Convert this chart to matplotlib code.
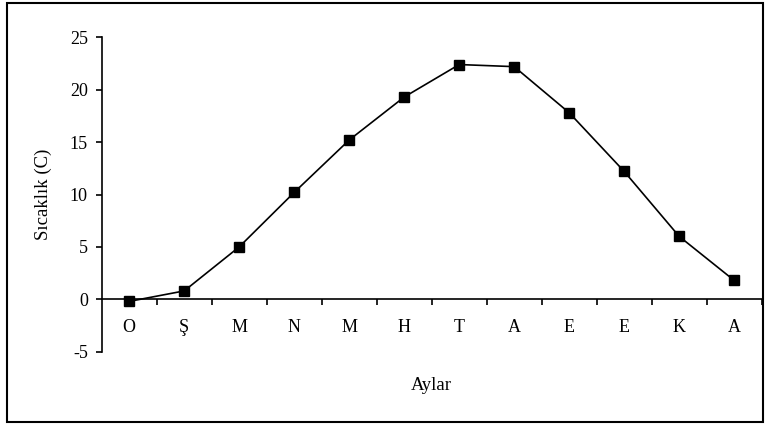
import matplotlib
matplotlib.use("Agg")
import matplotlib.pyplot as plt
from matplotlib.patches import Rectangle

months = ["O", "Ş", "M", "N", "M", "H", "T", "A", "E", "E", "K", "A"]
temps = [-0.2, 0.8, 5.0, 10.2, 15.2, 19.3, 22.4, 22.2, 17.8, 12.2, 6.0, 1.8]
y_ticks = [-5, 0, 5, 10, 15, 20, 25]

plt.rcParams['font.family'] = ['Liberation Serif', 'DejaVu Serif']

fig = plt.figure(figsize=(7.66, 4.25), dpi=100)
ax = fig.add_axes([101.7/766, (425-351.7)/425, (761.7-101.7)/766, (351.7-37.3)/425])

x = list(range(len(months)))
ax.plot(x, temps, color='black', lw=1.2, marker='s', markersize=7.2,
        markerfacecolor='black', markeredgecolor='black', clip_on=False, zorder=3)

ax.set_xlim(-0.5, len(months) - 0.5)
ax.set_ylim(-5, 25)
ax.set_yticks(y_ticks)
ax.set_yticklabels([str(v) for v in y_ticks], fontsize=13)

ax.spines['top'].set_visible(False)
ax.spines['right'].set_visible(False)
ax.spines['bottom'].set_position(('data', 0))
ax.spines['left'].set_linewidth(1.2)
ax.spines['bottom'].set_linewidth(1.2)

# major ticks at category boundaries, labels on minor ticks at categories
ax.set_xticks([i + 0.5 for i in range(len(months))])
ax.set_xticklabels([])
ax.set_xticks(x, minor=True)
ax.set_xticklabels(months, minor=True, fontsize=13)
ax.tick_params(axis='x', which='major', direction='out', length=4, width=1.2)
ax.tick_params(axis='x', which='minor', length=0, pad=14)
ax.tick_params(axis='y', direction='out', length=4, width=1.2, pad=6)

ax.set_ylabel("Sıcaklık (C)", fontsize=13.5)
ax.yaxis.set_label_coords(-0.075, 0.50)
ax.set_xlabel("Aylar", fontsize=13.5)
ax.xaxis.set_label_coords(0.5, -0.106)
ax.xaxis.label.set_va('center')

fig.patches.append(Rectangle((7/766, 3/425), 756/766, 419/425, transform=fig.transFigure,
                             fill=False, edgecolor='black', lw=1.5))

fig.savefig("out.png", dpi=100)
